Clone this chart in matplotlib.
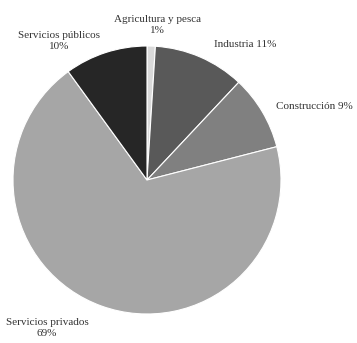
import matplotlib
matplotlib.use("Agg")
import matplotlib.pyplot as plt

sectors = ["Agricultura y pesca", "Industria", "Construcción",
           "Servicios privados", "Servicios públicos"]
shares = [1, 11, 9, 69, 10]
colors = ["#d9d9d9", "#595959", "#808080", "#a6a6a6", "#262626"]
label_text = ["Agricultura y pesca\n1%", "Industria 11%", "Construcción 9%",
              "Servicios privados\n69%", "Servicios públicos\n10%"]
label_pos = [(0.075, 1.157), (0.73, 1.01), (1.25, 0.545),
             (-0.746, -1.104), (-0.657, 1.037)]

plt.rcParams["font.family"] = ["Liberation Serif", "DejaVu Serif"]

fig = plt.figure(figsize=(3.57, 3.43), dpi=100)
ax = fig.add_axes([0, 0, 1, 1])
ax.pie(shares, colors=colors, startangle=90, counterclock=False,
       wedgeprops=dict(edgecolor="white", linewidth=0.8))

for txt, (x, y) in zip(label_text, label_pos):
    ax.text(x, y, txt, ha="center", va="center", fontsize=8,
            color="#333333", linespacing=1.25)

ax.set_xlim(-147 / 134, (357 - 147) / 134)
ax.set_ylim(-(343 - 180) / 134, 180 / 134)
ax.set_axis_off()

fig.savefig("out.png", dpi=100, facecolor="white")
